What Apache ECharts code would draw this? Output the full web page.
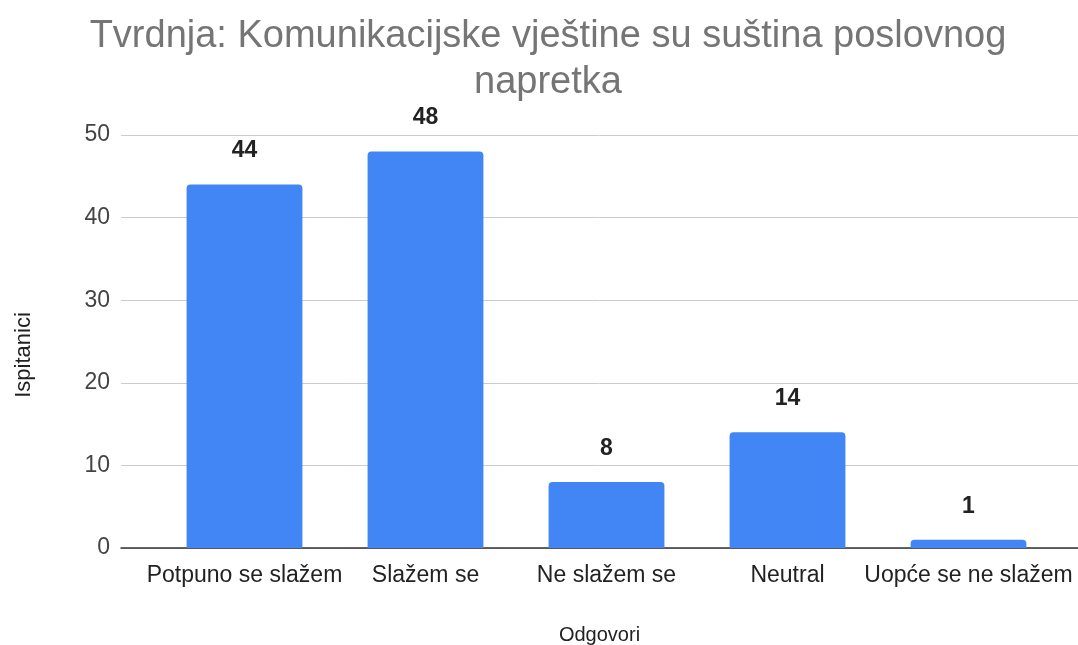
<!DOCTYPE html>
<html>
<head>
<meta charset="utf-8">
<script src="https://cdn.jsdelivr.net/npm/echarts@6/dist/echarts.min.js"></script>
<style>
  html, body { margin: 0; padding: 0; background: #fff; }
  #chart { width: 1078px; height: 645px; }
</style>
</head>
<body>
<div id="chart"></div>
<script>
// podaci
const categories = ['Potpuno se slažem', 'Slažem se', 'Ne slažem se', 'Neutral', 'Uopće se ne slažem']
const counts = [44, 48, 8, 14, 1]
const yTicks = [0, 10, 20, 30, 40, 50]

const chart = echarts.init(document.getElementById('chart'))
const font = 'Liberation Sans, Arial, sans-serif'
const yMin = yTicks[0]
const yMax = yTicks[yTicks.length - 1]

// grid 0 = mreža i osi, grid 1 = stupci (uži, kao u Google Sheets)
chart.setOption({
  animation: false,
  title: {
    text: 'Tvrdnja: Komunikacijske vještine su suština poslovnog\nnapretka',
    left: 543,
    textAlign: 'center',
    top: 9,
    textStyle: { fontFamily: font, fontSize: 38, fontWeight: 'normal', color: '#757575', lineHeight: 46 },
  },
  grid: [
    { left: 121, right: 0, top: 135, bottom: 97, outerBoundsMode: 'none' },
    { left: 154, right: 19, top: 135, bottom: 97, outerBoundsMode: 'none' },
  ],
  xAxis: [
    {
      gridIndex: 0,
      type: 'category',
      data: categories,
      name: 'Odgovori',
      nameLocation: 'middle',
      nameGap: 77,
      nameTextStyle: { fontFamily: font, fontSize: 20, color: '#222' },
      axisLine: { lineStyle: { color: '#333', width: 1.5 } },
      axisTick: { show: false },
      axisLabel: { show: false },
    },
    {
      gridIndex: 1,
      type: 'category',
      data: categories,
      axisLine: { show: false },
      axisTick: { show: false },
      axisLabel: { fontFamily: font, fontSize: 23, color: '#222', margin: 16, interval: 0 },
    },
  ],
  yAxis: [
    {
      gridIndex: 0,
      type: 'value',
      min: yMin,
      max: yMax,
      interval: 10,
      name: 'Ispitanici',
      nameLocation: 'middle',
      nameGap: 86,
      nameTextStyle: { fontFamily: font, fontSize: 22, color: '#222', padding: [0, 27, 0, 0] },
      axisLine: { show: false },
      axisTick: { show: false },
      axisLabel: { fontFamily: font, fontSize: 23, color: '#444', margin: 11 },
      splitLine: { lineStyle: { color: '#ccc', width: 1 } },
    },
    {
      gridIndex: 1,
      type: 'value',
      min: yMin,
      max: yMax,
      interval: 10,
      show: false,
      splitLine: { show: false },
    },
  ],
  series: [{
    type: 'bar',
    xAxisIndex: 1,
    yAxisIndex: 1,
    data: counts,
    barWidth: '64%',
    itemStyle: { color: '#4285F4', borderRadius: [4, 4, 0, 0] },
    label: {
      show: true,
      position: 'top',
      distance: 22,
      fontFamily: font,
      fontSize: 23,
      fontWeight: 'bold',
      color: '#222',
    },
  }],
})
</script>
</body>
</html>
